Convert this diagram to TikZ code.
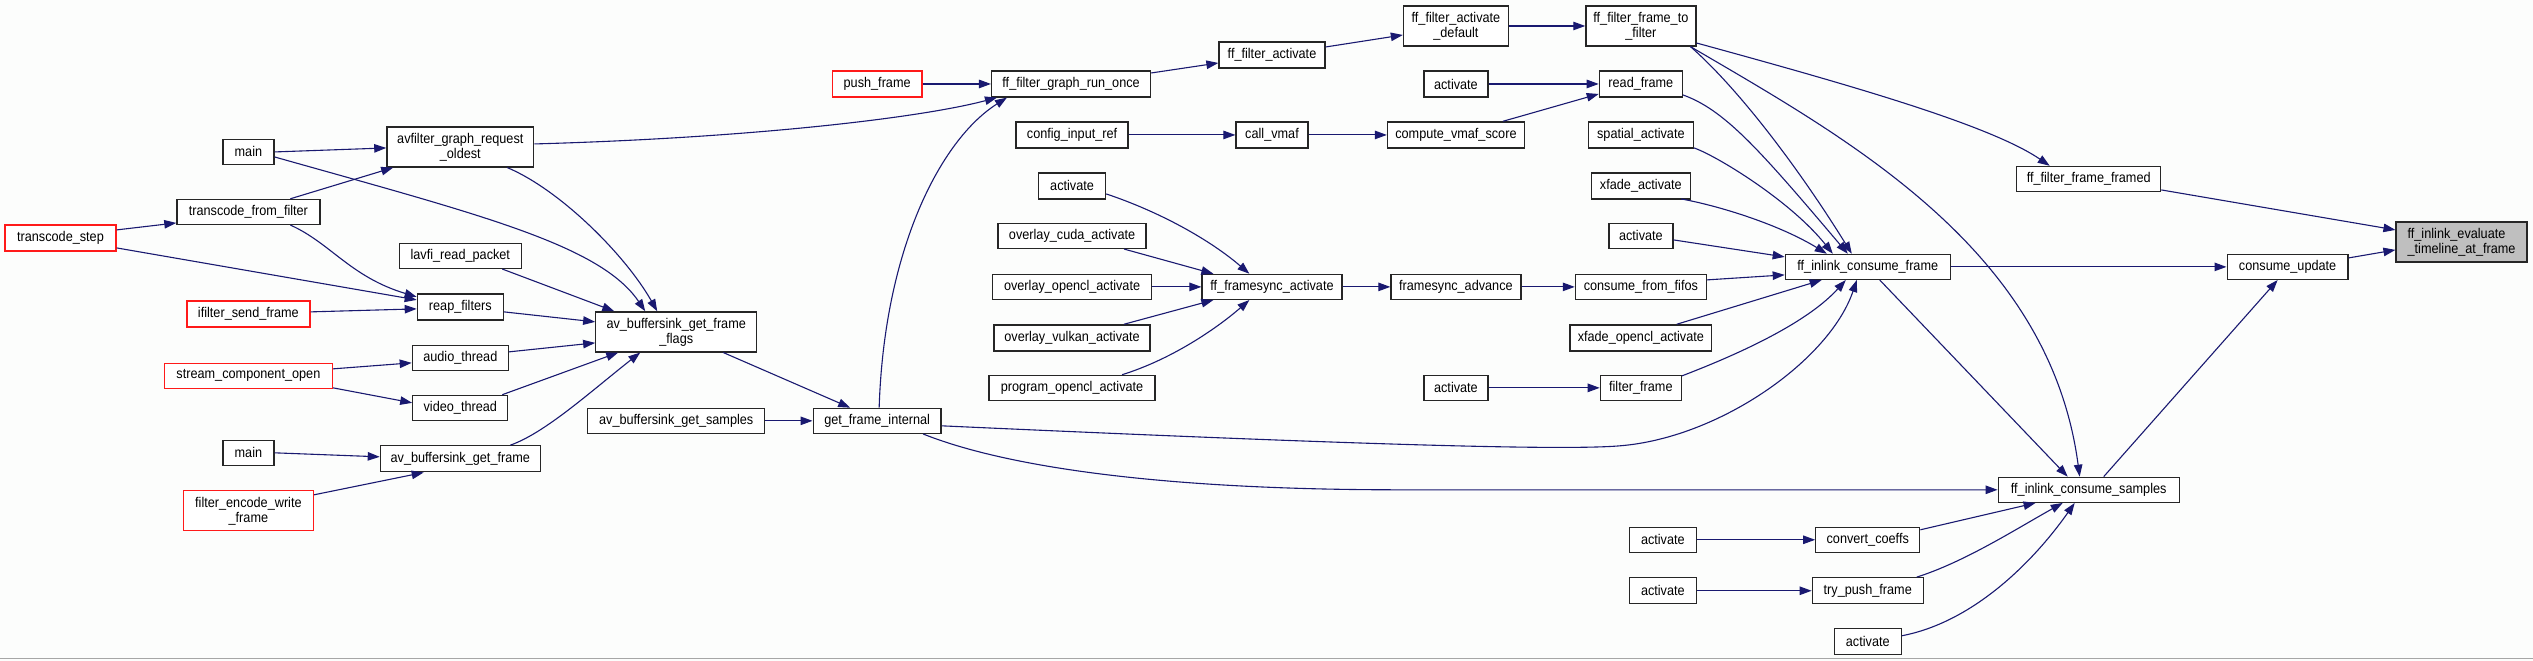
\documentclass[tikz,border=0pt]{standalone}
\usepackage{fontspec}
\setmainfont[FakeStretch=0.9]{Liberation Sans}
\usetikzlibrary{arrows.meta,calc}
\definecolor{edgec}{HTML}{191970}
\definecolor{bgc}{HTML}{FCFDFC}
\definecolor{redc}{HTML}{FF1A1A}
\definecolor{hlc}{HTML}{BFBFBF}
\tikzset{
  fn/.style={draw=black!85, line width=1.3pt, fill=white, inner sep=0pt,
    font=\fontsize{14.1}{15}\selectfont, align=center},
  trunc/.style={fn, draw=redc},
  e/.style={draw=edgec, line width=1.1pt, -{Triangle[length=12pt,width=8.5pt]}},
}
\begin{document}
\begin{tikzpicture}[x=1pt,y=-1pt]
\fill[bgc] (0,0) rectangle (2533,661);
\draw[black!35, line width=1pt] (0,659) -- (2533,659);
% ---- nodes ----
\node[fn, minimum width=51pt, minimum height=25pt] (main1) at (248,152) {main};
\node[fn, minimum width=143pt, minimum height=25pt] (tff) at (248,212) {transcode\_from\_filter};
\node[trunc, minimum width=111pt, minimum height=26pt] (tstep) at (60,238) {transcode\_step};
\node[trunc, minimum width=123pt, minimum height=26pt] (ifsf) at (248,314) {ifilter\_send\_frame};
\node[trunc, minimum width=168pt, minimum height=25pt] (sco) at (248,376) {stream\_component\_open};
\node[fn, minimum width=51pt, minimum height=25pt] (main2) at (248,453) {main};
\node[trunc, minimum width=130pt, minimum height=40pt] (few) at (248,511) {filter\_encode\_write\\\_frame};
\node[fn, minimum width=147pt, minimum height=40pt] (agro) at (460,147) {avfilter\_graph\_request\\\_oldest};
\node[fn, minimum width=122pt, minimum height=25pt] (lrp) at (460,256) {lavfi\_read\_packet};
\node[fn, minimum width=86pt, minimum height=26pt] (reap) at (460,307) {reap\_filters};
\node[fn, minimum width=96pt, minimum height=25pt] (audio) at (460,358) {audio\_thread};
\node[fn, minimum width=95pt, minimum height=25pt] (video) at (460,408) {video\_thread};
\node[fn, minimum width=160pt, minimum height=26pt] (abgf) at (460,459) {av\_buffersink\_get\_frame};
\node[fn, minimum width=161pt, minimum height=40pt] (bgff) at (676,332) {av\_buffersink\_get\_frame\\\_flags};
\node[fn, minimum width=177pt, minimum height=25pt] (bgs) at (676,421) {av\_buffersink\_get\_samples};
\node[fn, minimum width=128pt, minimum height=25pt] (gfi) at (877,421) {get\_frame\_internal};
\node[trunc, minimum width=90pt, minimum height=26pt] (push) at (877,84) {push\_frame};
\node[fn, minimum width=159pt, minimum height=26pt] (fgro) at (1071,84) {ff\_filter\_graph\_run\_once};
\node[fn, minimum width=112pt, minimum height=26pt] (cir) at (1072,135) {config\_input\_ref};
\node[fn, minimum width=67pt, minimum height=26pt] (act1) at (1072,186) {activate};
\node[fn, minimum width=148pt, minimum height=25pt] (oca) at (1072,236) {overlay\_cuda\_activate};
\node[fn, minimum width=159pt, minimum height=25pt] (ooa) at (1072,287) {overlay\_opencl\_activate};
\node[fn, minimum width=156pt, minimum height=26pt] (ova) at (1072,338) {overlay\_vulkan\_activate};
\node[fn, minimum width=166pt, minimum height=25pt] (poa) at (1072,388) {program\_opencl\_activate};
\node[fn, minimum width=140pt, minimum height=25pt] (fsa) at (1272,287) {ff\_framesync\_activate};
\node[fn, minimum width=106pt, minimum height=26pt] (ffa) at (1272,55) {ff\_filter\_activate};
\node[fn, minimum width=72pt, minimum height=26pt] (cv) at (1272,135) {call\_vmaf};
\node[fn, minimum width=105pt, minimum height=40pt] (fad) at (1456,26) {ff\_filter\_activate\\\_default};
\node[fn, minimum width=64pt, minimum height=26pt] (act2) at (1456,84) {activate};
\node[fn, minimum width=137pt, minimum height=26pt] (cvs) at (1456,135) {compute\_vmaf\_score};
\node[fn, minimum width=130pt, minimum height=25pt] (fsadv) at (1456,287) {framesync\_advance};
\node[fn, minimum width=64pt, minimum height=25pt] (act3) at (1456,388) {activate};
\node[fn, minimum width=110pt, minimum height=40pt] (fftf) at (1641,26) {ff\_filter\_frame\_to\\\_filter};
\node[fn, minimum width=83pt, minimum height=26pt] (rf) at (1641,84) {read\_frame};
\node[fn, minimum width=105pt, minimum height=26pt] (sa) at (1641,135) {spatial\_activate};
\node[fn, minimum width=99pt, minimum height=26pt] (xa) at (1641,186) {xfade\_activate};
\node[fn, minimum width=64pt, minimum height=25pt] (act4) at (1641,236) {activate};
\node[fn, minimum width=131pt, minimum height=25pt] (cff) at (1641,287) {consume\_from\_fifos};
\node[fn, minimum width=142pt, minimum height=26pt] (xoa) at (1641,338) {xfade\_opencl\_activate};
\node[fn, minimum width=81pt, minimum height=25pt] (ff) at (1641,388) {filter\_frame};
\node[fn, minimum width=67pt, minimum height=25pt] (act5) at (1663,540) {activate};
\node[fn, minimum width=67pt, minimum height=26pt] (act6) at (1663,591) {activate};
\node[fn, minimum width=104pt, minimum height=25pt] (cc) at (1868,540) {convert\_coeffs};
\node[fn, minimum width=111pt, minimum height=26pt] (tpf) at (1868,591) {try\_push\_frame};
\node[fn, minimum width=67pt, minimum height=26pt] (act7) at (1868,642) {activate};
\node[fn, minimum width=165pt, minimum height=25pt] (icf) at (1868,267) {ff\_inlink\_consume\_frame};
\node[fn, minimum width=144pt, minimum height=25pt] (fffr) at (2089,179) {ff\_filter\_frame\_framed};
\node[fn, minimum width=181pt, minimum height=25pt] (ics) at (2089,490) {ff\_inlink\_consume\_samples};
\node[fn, minimum width=121pt, minimum height=25pt] (cu) at (2288,267) {consume\_update};
\node[fn, fill=hlc, align=left, minimum width=131pt, minimum height=40pt] (ie) at (2462,242) {ff\_inlink\_evaluate\\\_timeline\_at\_frame};
% ---- edges: left part ----
\draw[e] (main1.east) -- ($(agro.west)+(0,1)$);
\draw[e] ($(main1.east)+(0,5)$) .. controls (480,215) and (600,245) .. ($(bgff.north)+(-31,0)$);
\draw[e] ($(tff.north)+(42,0)$) -- ($(agro.south west)+(7,0)$);
\draw[e] ($(tff.south)+(42,0)$) .. controls (330,243) and (350,277) .. ($(reap.west)+(0,-10)$);
\draw[e] ($(tstep.east)+(0,-8)$) -- ($(tff.west)+(0,11)$);
\draw[e] ($(tstep.east)+(0,10)$) -- ($(reap.west)+(0,-7)$);
\draw[e] ($(ifsf.east)+(0,-2)$) -- ($(reap.west)+(0,2)$);
\draw[e] ($(sco.east)+(0,-7)$) -- ($(audio.west)+(0,5)$);
\draw[e] ($(sco.east)+(0,12)$) -- ($(video.west)+(0,-5)$);
\draw[e] (main2.east) -- ($(abgf.west)+(0,-2)$);
\draw[e] ($(few.east)+(0,-16)$) -- ($(abgf.south west)+(44,0)$);
% ---- into av_buffersink_get_frame_flags ----
\draw[e] ($(agro.south)+(47,0)$) .. controls (560,190) and (625,255) .. ($(bgff.north)+(-19,0)$);
\draw[e] ($(lrp.south)+(42,0)$) -- ($(bgff.north)+(-62,0)$);
\draw[e] ($(reap.east)+(0,5)$) -- ($(bgff.west)+(0,-10)$);
\draw[e] ($(audio.east)+(0,-6)$) -- ($(bgff.west)+(0,11)$);
\draw[e] ($(video.north)+(42,0)$) -- ($(bgff.south)+(-58,0)$);
\draw[e] ($(abgf.north)+(50,0)$) .. controls (545,433) and (590,392) .. ($(bgff.south)+(-36,0)$);
\draw[e] ($(bgff.south)+(47,0)$) -- ($(gfi.north)+(-27,0)$);
\draw[e] (bgs.east) -- (gfi.west);
% ---- get_frame_internal out ----
\draw[e] ($(agro.east)+(0,-3)$) .. controls (750,138) and (920,118) .. ($(fgro.south west)+(6,0)$);
\draw[e] ($(gfi.north)+(2,0)$) .. controls (884,250) and (940,140) .. ($(fgro.south west)+(16,0)$);
\draw[e] ($(gfi.east)+(0,5)$) .. controls (1250,440) and (1550,452) .. (1620,446) .. controls (1720,438) and (1830,360) .. ($(icf.south)+(-11,0)$);
\draw[e] ($(gfi.south)+(46,0)$) .. controls (1000,465) and (1150,490) .. (1400,490) -- (ics.west);
% ---- top chain ----
\draw[e] (push.east) -- (fgro.west);
\draw[e] ($(fgro.east)+(0,-11)$) -- ($(ffa.west)+(0,8)$);
\draw[e] ($(ffa.east)+(0,-8)$) -- ($(fad.west)+(0,9)$);
\draw[e] (fad.east) -- (fftf.west);
\draw[e] (cir.east) -- (cv.west);
\draw[e] (cv.east) -- (cvs.west);
\draw[e] ($(cvs.north)+(47,0)$) -- ($(rf.west)+(0,10)$);
\draw[e] (act2.east) -- (rf.west);
% ---- framesync ----
\draw[e] ($(act1.east)+(0,8)$) .. controls (1160,212) and (1210,240) .. ($(fsa.north west)+(48,0)$);
\draw[e] ($(oca.south)+(52,0)$) -- ($(fsa.north west)+(12,0)$);
\draw[e] (ooa.east) -- (fsa.west);
\draw[e] ($(ova.north)+(52,0)$) -- ($(fsa.south west)+(12,0)$);
\draw[e] ($(poa.north)+(50,0)$) .. controls (1170,360) and (1215,330) .. ($(fsa.south west)+(48,0)$);
\draw[e] (fsa.east) -- (fsadv.west);
\draw[e] (fsadv.east) -- (cff.west);
\draw[e] (act3.east) -- (ff.west);
% ---- into ff_inlink_consume_frame ----
\draw[e] ($(fftf.south east)+(-6,0)$) .. controls (1740,90) and (1800,170) .. ($(icf.north)+(-16,0)$);
\draw[e] ($(rf.east)+(0,11)$) .. controls (1725,110) and (1760,150) .. ($(icf.north)+(-20,0)$);
\draw[e] ($(sa.east)+(0,13)$) .. controls (1715,155) and (1790,200) .. ($(icf.north)+(-35,0)$);
\draw[e] ($(xa.east)+(-10,13)$) .. controls (1720,206) and (1780,225) .. ($(icf.north)+(-41,0)$);
\draw[e] ($(act4.east)+(0,4)$) -- ($(icf.west)+(0,-10)$);
\draw[e] ($(cff.east)+(0,-7)$) -- ($(icf.west)+(0,8)$);
\draw[e] ($(xoa.north)+(36,0)$) -- ($(icf.south west)+(37,0)$);
\draw[e] ($(ff.east)+(0,-12)$) .. controls (1750,350) and (1810,320) .. ($(icf.south)+(-22,0)$);
% ---- right part ----
\draw[e] (icf.east) -- (cu.west);
\draw[e] ($(icf.south)+(12,0)$) -- ($(ics.north)+(-21,0)$);
\draw[e] ($(fftf.south east)+(-6,0)$) .. controls (1850,140) and (2050,250) .. ($(ics.north)+(-9,0)$);
\draw[e] ($(ics.north)+(15,0)$) -- ($(cu.south)+(-10,0)$);
\draw[e] ($(fftf.east)+(0,17)$) .. controls (1850,85) and (1990,125) .. ($(fffr.north)+(-39,0)$);
\draw[e] ($(fffr.east)+(0,11)$) -- ($(ie.west)+(0,-12)$);
\draw[e] ($(cu.east)+(0,-9)$) -- ($(ie.west)+(0,8)$);
% ---- into ff_inlink_consume_samples ----
\draw[e] ($(cc.east)+(0,-10)$) -- ($(ics.south west)+(38,0)$);
\draw[e] ($(tpf.north)+(49,0)$) .. controls (1965,562) and (2015,530) .. ($(ics.south)+(-26,0)$);
\draw[e] ($(act7.east)+(0,-6)$) .. controls (1975,622) and (2035,560) .. ($(ics.south)+(-14,0)$);
\draw[e] (act5.east) -- (cc.west);
\draw[e] (act6.east) -- (tpf.west);
\end{tikzpicture}
\end{document}
